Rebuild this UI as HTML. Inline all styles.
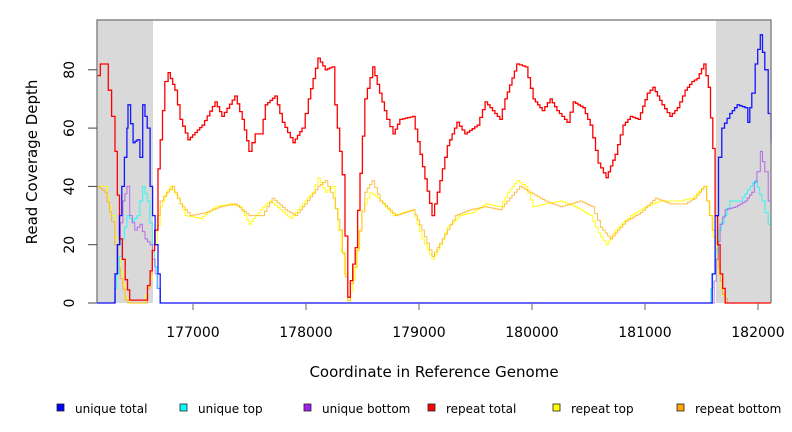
<!DOCTYPE html>
<html><head><meta charset="utf-8"><style>
body{margin:0;background:#fff;}
svg{display:block;font-family:"DejaVu Sans","Liberation Sans",sans-serif;}
</style></head><body>
<svg id="chart" width="792" height="432" viewBox="0 0 792 432">
<g id="bg"></g><g id="series"></g><g id="axes"></g><g id="legend"></g>
</svg>
<script>
const yTicks=[0,20,40,60,80];
const xTicks=[177000,178000,179000,180000,181000,182000];
const xTickLabels=["177000","178000","179000","180000","181000","182000"];
const shadedRegions=[[176150,176646],[181628,182115]];
const legendLabels=["unique total","unique top","unique bottom","repeat total","repeat top","repeat bottom"];
const legendColors=["#0000ff","#00ffff","#a020f0","#ff0000","#ffff00","#ffa500"];

const redX=[176150,176180,176220,176250,176280,176310,176350,176400,176440,176575,176620,176660,176690,176730,176750,176780,176840,176885,176955,177080,177195,177255,177370,177435,177495,177550,177600,177640,177725,177790,177885,177965,178020,178105,178170,178230,178255,178320,178370,178435,178520,178590,178630,178715,178770,178830,178945,179010,179115,179185,179250,179335,179405,179515,179585,179715,179760,179865,179940,180010,180090,180160,180220,180310,180365,180450,180515,180585,180655,180735,180805,180870,180940,181020,181070,181150,181220,181285,181355,181415,181460,181520,181560,181600,181620,181665,181710,182115];
const redY=[78,82,82,73,64,52,22,8,1,1,11,25,46,66,76,79,73,63,56,61,69,64,71,63,52,58,58,68,71,62,55,60,70,84,80,81,68,44,2,19,70,81,75,63,58,63,64,51,30,42,54,62,58,61,69,63,70,82,81,70,66,70,66,62,69,67,61,48,43,51,61,64,63,72,74,68,64,67,73,76,77,82,74,53,30,10,0,0];

const yelX=[176150,176220,176280,176335,176400,176440,176555,176620,176660,176710,176750,176795,176865,176930,177060,177195,177330,177415,177495,177595,177680,177770,177860,177990,178055,178105,178170,178230,178285,178340,178370,178435,178495,178565,178635,178770,178945,179025,179115,179185,179250,179360,179470,179585,179715,179785,179865,179940,180010,180115,180250,180380,180515,180585,180655,180735,180870,181000,181135,181310,181415,181520,181575,181630,181665,181710,182115];
const yelY=[40,40,30,15,2,0,0,8,20,33,37,40,36,30,29,33,34,33,27,32,35,32,29,35,38,43,38,40,25,10,0,12,32,38,36,30,32,22,15,20,26,30,31,34,33,38,42,40,33,34,35,33,30,24,20,25,30,33,35,35,36,40,30,15,5,0,0];

const orgX=[176150,176220,176280,176335,176400,176425,176575,176620,176660,176710,176765,176815,176885,176975,177105,177240,177370,177495,177610,177700,177815,177905,177990,178105,178170,178240,178300,178370,178445,178520,178585,178655,178790,178945,179025,179115,179205,179320,179450,179585,179715,179800,179890,179980,180115,180250,180425,180530,180605,180690,180825,180960,181090,181220,181355,181440,181520,181595,181650,181685,181730,182115];
const orgY=[40,38,28,12,1,0,0,10,25,35,38,40,34,30,31,33,34,30,30,36,32,30,34,40,42,36,25,1,18,38,42,35,30,32,25,16,22,30,32,33,32,36,40,38,35,33,35,33,26,22,28,31,36,34,34,36,40,25,12,3,0,0];

const bluX=[176150,176290,176310,176370,176415,176425,176470,176505,176530,176555,176595,176620,176665,176690,176710,181565,181595,181620,181650,181680,181750,181815,181885,181910,181945,181975,182020,182060,182090,182115];
const bluY=[0,0,10,40,60,68,55,56,50,68,60,40,20,10,0,0,10,30,50,60,65,68,67,62,72,82,92,80,65,55];

const cyaX=[176150,176290,176325,176370,176415,176460,176505,176555,176595,176640,176680,176710,181565,181600,181650,181700,181750,181840,181930,181975,182035,182090,182115];
const cyaY=[0,0,10,22,30,28,30,40,35,20,5,0,0,10,25,30,35,35,40,42,35,27,30];

const purX=[176150,176290,176335,176380,176415,176440,176485,176530,176575,176620,176665,176710,181595,181630,181665,181710,181800,181885,181945,181990,182020,182060,182090,182115];
const purY=[0,0,20,35,40,30,25,27,22,20,10,0,0,15,27,32,33,35,38,45,52,45,35,33];

const NS="http://www.w3.org/2000/svg";
const L=97,R=771,T=20,B=303;
function xs(v){return 193+(v-177000)*0.113;}
function ys(v){return 303-v*2.915;}
function mk(tag,attrs,parent){const e=document.createElementNS(NS,tag);for(const k in attrs)e.setAttribute(k,attrs[k]);parent.appendChild(e);return e;}
const bg=document.getElementById('bg'),sg=document.getElementById('series'),ax=document.getElementById('axes'),lg=document.getElementById('legend');

shadedRegions.forEach((r,i)=>{
  const a=Math.max(L,xs(r[0])),b=Math.min(R,xs(r[1]));
  const el=mk('rect',{x:a,y:T,width:b-a,height:B-T,fill:'#d9d9d9'},bg);
  
  
});

function step(X,Y){
  let d='';
  for(let i=0;i<X.length-1;i++){
    const x0=xs(X[i]),x1=xs(X[i+1]),y0=ys(Y[i]),y1=ys(Y[i+1]);
    if(i===0)d+='M'+x0.toFixed(1)+' '+y0.toFixed(1);
    const n=Math.max(1,Math.round((x1-x0)/2.5));
    for(let k=1;k<=n;k++){
      const xx=x0+(x1-x0)*k/n,yy=y0+(y1-y0)*k/n;
      d+='H'+xx.toFixed(1)+'V'+yy.toFixed(1);
    }
  }
  return d;
}
const series=[[yelX,yelY,'#ffff00',1,'repeat-top-line',0.9],[orgX,orgY,'#ffa500',1,'repeat-bottom-line',0.7],[cyaX,cyaY,'#00ffff',1,'unique-top-line',0.8],[purX,purY,'#a020f0',1,'unique-bottom-line',0.6],[redX,redY,'#ff0000',1.3,'repeat-total-line',1],[bluX,bluY,'#0000ff',1.3,'unique-total-line',0.9]];
series.forEach(s=>{
  const el=mk('path',{d:step(s[0],s[1]),fill:'none',stroke:s[2],'stroke-width':s[3],'stroke-opacity':s[5]},sg);
  
  
});

const box=mk('path',{d:`M${L} ${B}L${L} ${T}L${R} ${T}L${R} ${B}`,fill:'none',stroke:'#888',"stroke-width":1.5},ax);



yTicks.forEach(v=>{
  const y=ys(v);
  const t=mk('line',{x1:88,x2:L,y1:y,y2:y,stroke:'#444'},ax);
  
  
  const tx=mk('text',{x:74,y:y,transform:`rotate(-90 74 ${y})`,'text-anchor':'middle','font-size':14,fill:'#000'},ax);
  tx.textContent=String(v);
  
  
});
xTicks.forEach((v,i)=>{
  const x=xs(v);
  const t=mk('line',{x1:x,x2:x,y1:B,y2:310,stroke:'#666'},ax);
  
  
  const tx=mk('text',{x:x,y:337,'text-anchor':'middle','font-size':14,fill:'#000'},ax);
  tx.textContent=xTickLabels[i];
  
  
});
const xt=mk('text',{x:434,y:377,'text-anchor':'middle','font-size':15,fill:'#000'},ax);
xt.textContent='Coordinate in Reference Genome';


const yt=mk('text',{x:37,y:162,transform:'rotate(-90 37 162)','text-anchor':'middle','font-size':15,fill:'#000'},ax);
yt.textContent='Read Coverage Depth';



const lgX=[57,180,304,428,553,677];
legendLabels.forEach((lab,i)=>{
  const g=mk('g',{},lg);
  
  
  mk('rect',{x:lgX[i],y:404,width:7,height:7,fill:legendColors[i],stroke:'#222','stroke-width':0.8},g);
  const t=mk('text',{x:lgX[i]+18,y:413,'font-size':12,fill:'#000'},g);
  t.textContent=lab;
});
</script>
</body></html>
